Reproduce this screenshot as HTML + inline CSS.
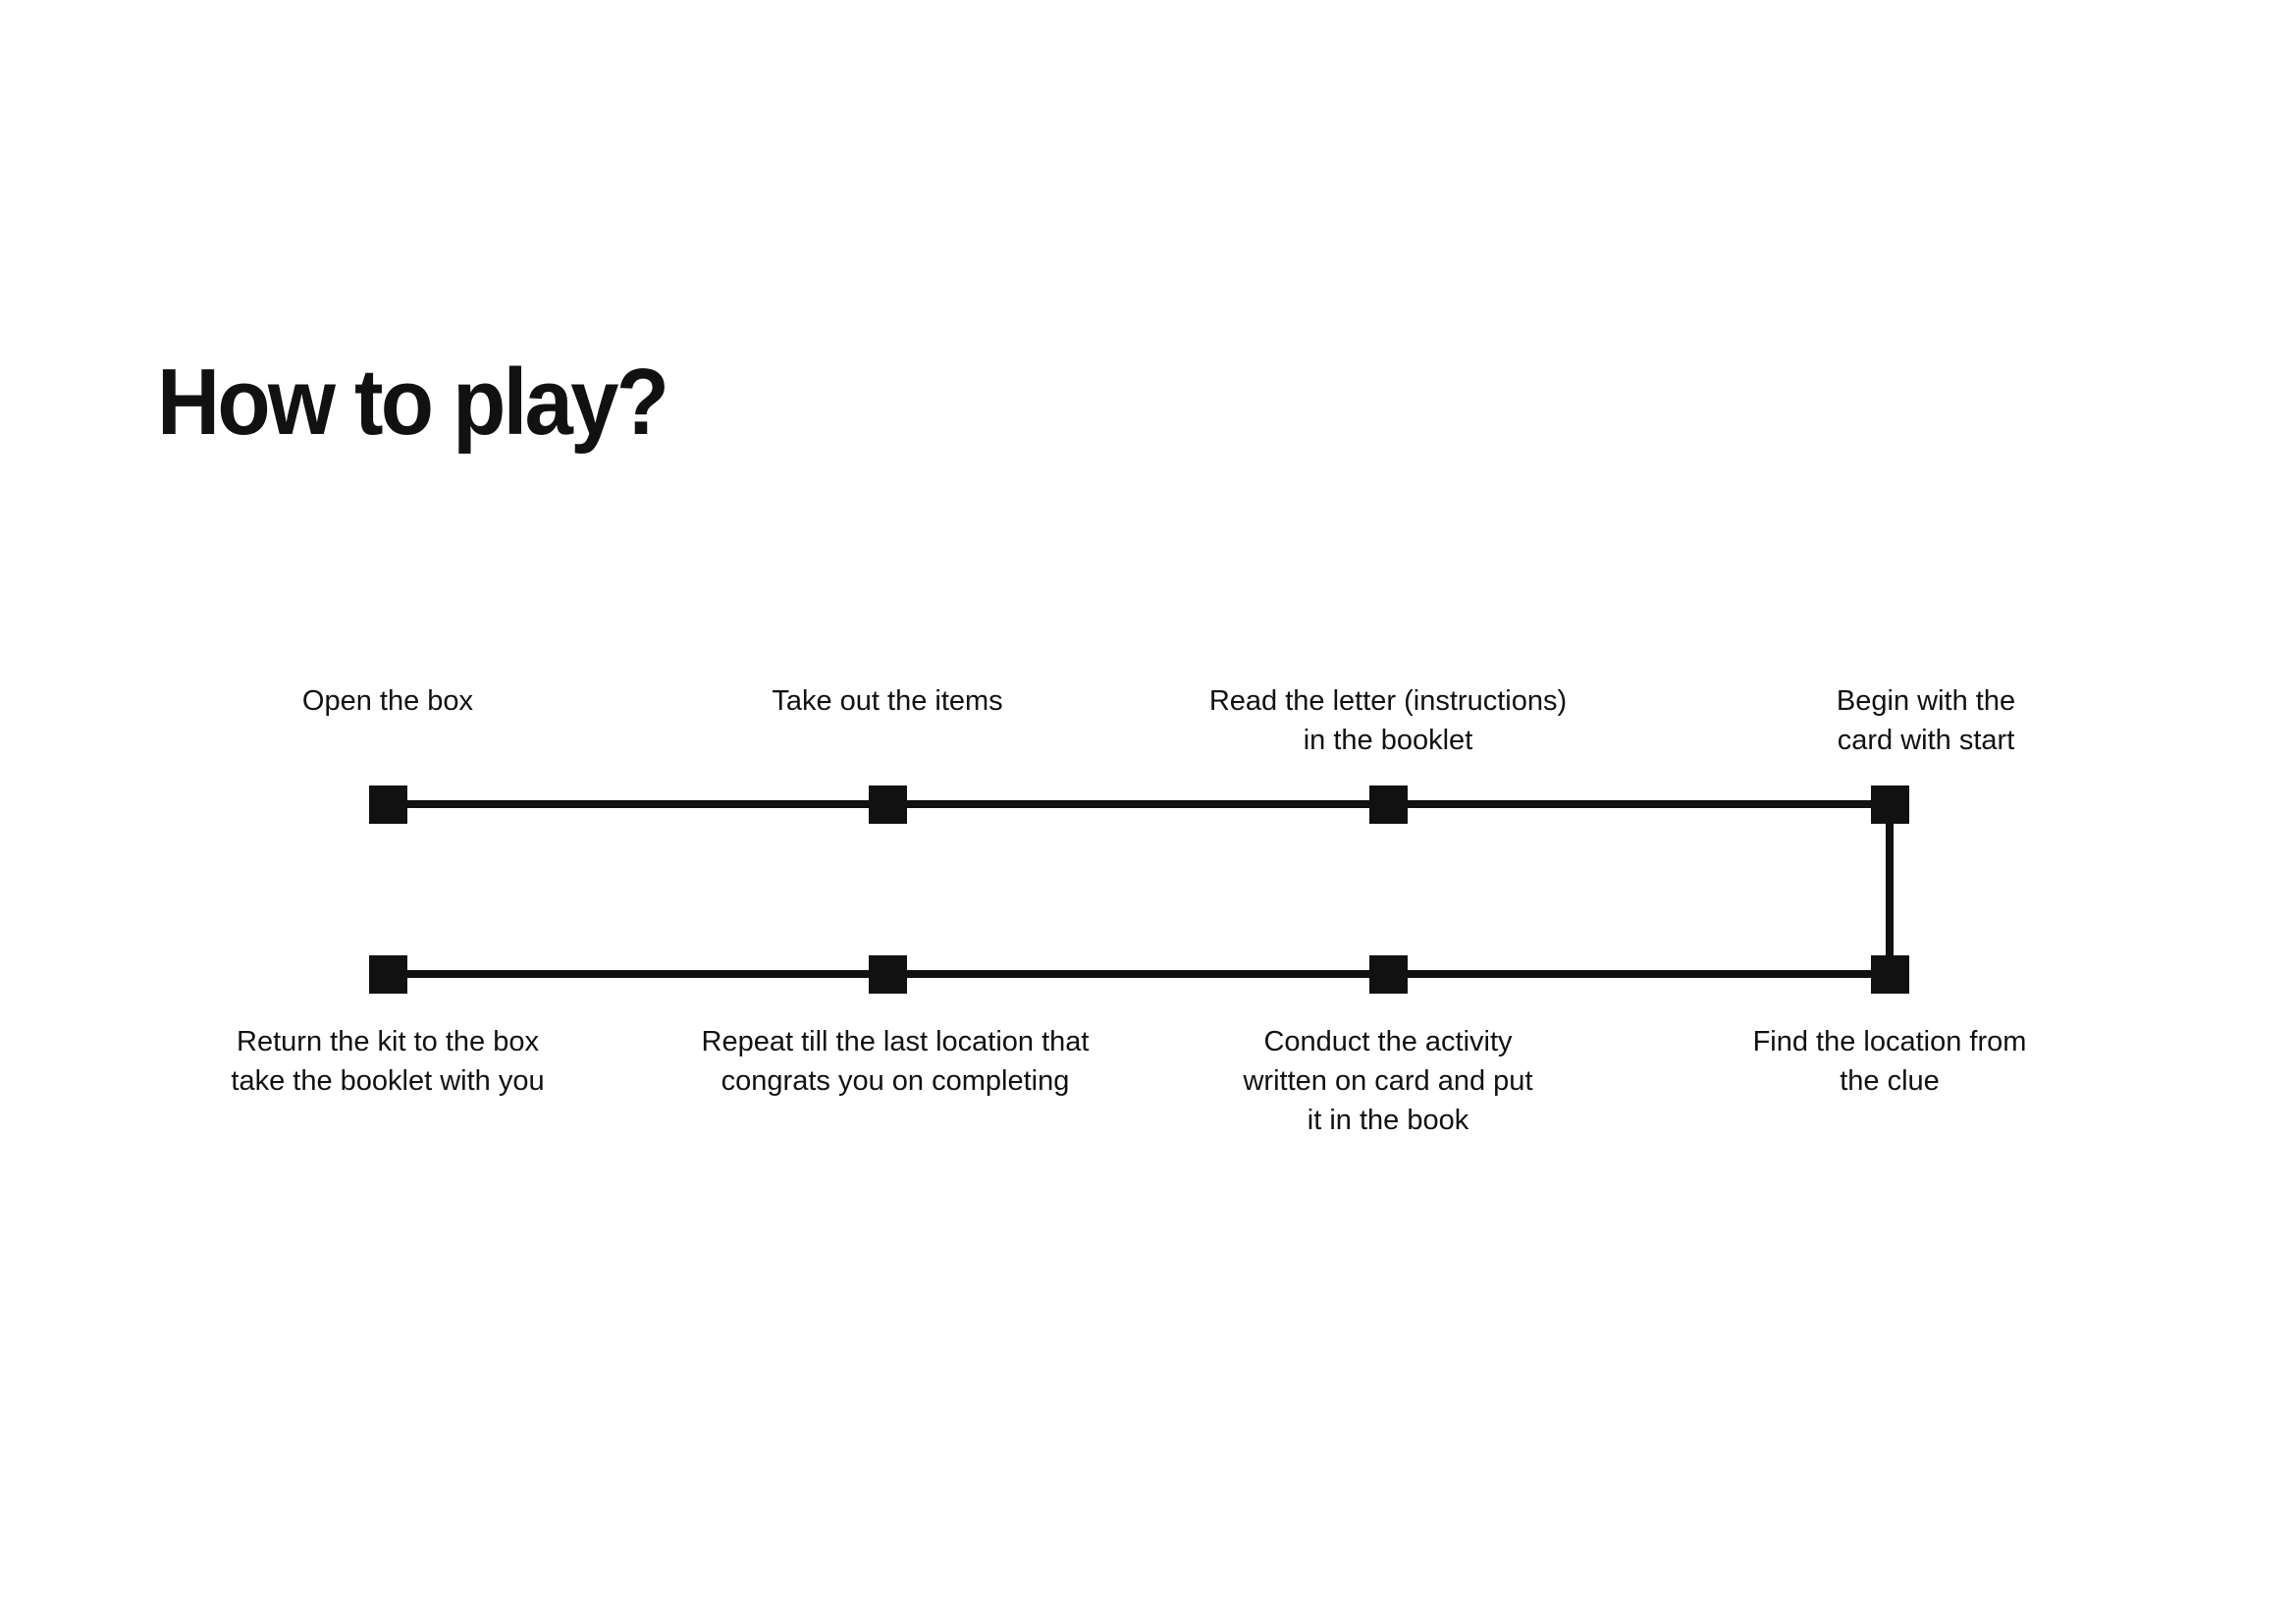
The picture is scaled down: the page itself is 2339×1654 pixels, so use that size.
<!DOCTYPE html>
<html><head><meta charset="utf-8"><style>
html,body{margin:0;padding:0;background:#fff;}
body{width:2339px;height:1654px;position:relative;overflow:hidden;font-family:"Liberation Sans",sans-serif;color:#111;}
.title{position:absolute;left:160px;top:362px;font-size:96px;line-height:96px;font-weight:bold;letter-spacing:-3px;transform:scaleX(0.925);transform-origin:0 0;white-space:nowrap;}
.sq{position:absolute;width:39px;height:39px;background:#111;}
.ln{position:absolute;background:#111;}
.lbl{position:absolute;width:600px;text-align:center;font-size:29px;line-height:40px;font-weight:300;}
</style></head><body>
<div class="title">How to play?</div>

<div class="ln" style="left:395px;top:815px;width:1530px;height:8px"></div>
<div class="ln" style="left:395px;top:988px;width:1530px;height:8px"></div>
<div class="ln" style="left:1921px;top:819px;width:8px;height:173px"></div>

<div class="sq" style="left:376px;top:800px"></div>
<div class="sq" style="left:885px;top:800px"></div>
<div class="sq" style="left:1395px;top:800px"></div>
<div class="sq" style="left:1906px;top:800px"></div>
<div class="sq" style="left:376px;top:973px"></div>
<div class="sq" style="left:885px;top:973px"></div>
<div class="sq" style="left:1395px;top:973px"></div>
<div class="sq" style="left:1906px;top:973px"></div>

<div class="lbl" style="left:95px;top:694px">Open the box</div>
<div class="lbl" style="left:604px;top:694px">Take out the items</div>
<div class="lbl" style="left:1114px;top:694px">Read the letter (instructions)<br>in the booklet</div>
<div class="lbl" style="left:1662px;top:694px">Begin with the<br>card with start</div>

<div class="lbl" style="left:95px;top:1041px">Return the kit to the box<br>take the booklet with you</div>
<div class="lbl" style="left:612px;top:1041px">Repeat till the last location that<br>congrats you on completing</div>
<div class="lbl" style="left:1114px;top:1041px">Conduct the activity<br>written on card and put<br>it in the book</div>
<div class="lbl" style="left:1625px;top:1041px">Find the location from<br>the clue</div>
</body></html>
